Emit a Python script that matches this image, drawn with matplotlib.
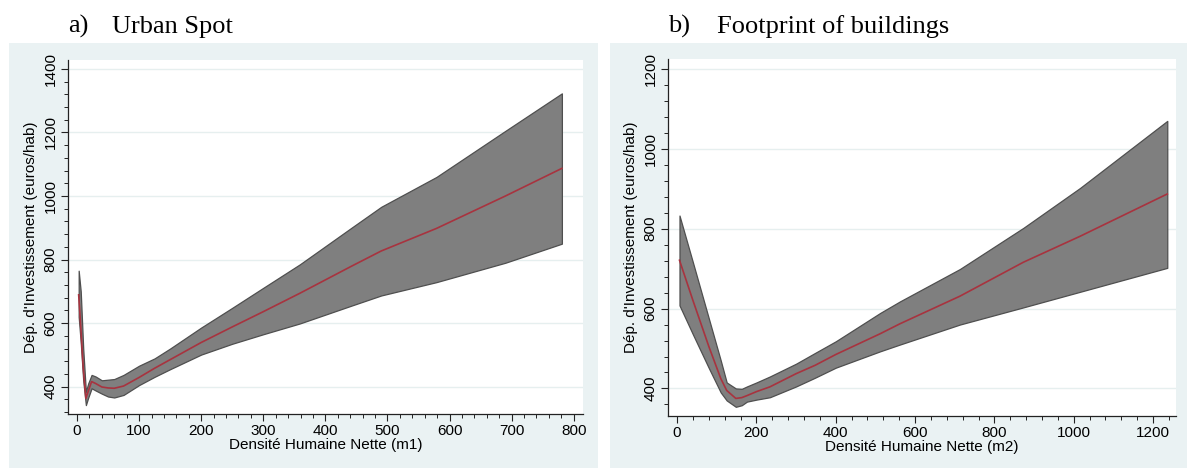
import matplotlib.pyplot as plt
import numpy as np
from matplotlib.patches import Rectangle
from matplotlib.ticker import MultipleLocator

# Panel a) Urban Spot
x_a = [2.7, 6, 10, 14.3, 18, 23.5, 30, 40, 50, 60, 75, 100, 125, 150,
       200, 250, 300, 359, 442, 490, 579, 690, 781]
fit_a = [689, 590, 460, 363, 385, 416, 410, 399, 396, 395, 402, 429, 458, 485,
         539, 588, 636, 694, 779, 827, 898, 1000, 1087]
hi_a = [765, 700, 520, 384, 410, 437, 432, 420, 422, 424, 437, 466, 489, 520,
        586, 648, 711, 785, 900, 966, 1060, 1205, 1323]
lo_a = [620, 540, 420, 342, 365, 395, 388, 378, 369, 366, 374, 405, 431, 455,
        501, 535, 565, 599, 655, 687, 729, 790, 850]

# Panel b) Footprint of buildings
x_b = [6, 40, 80, 110, 125, 148, 163, 176, 200, 234, 300, 348, 400, 512,
       562, 713, 873, 1016, 1236]
fit_b = [721, 620, 505, 425, 395, 375, 377, 382, 392, 404, 437, 458, 485, 537,
         562, 631, 716, 781, 887]
hi_b = [833, 715, 575, 470, 415, 400, 399, 405, 415, 430, 462, 489, 518, 589,
        618, 699, 802, 902, 1070]
lo_b = [608, 535, 451, 390, 370, 354, 358, 367, 372, 378, 405, 427, 452, 493,
        510, 560, 603, 642, 702]

BG = "#EAF2F3"
GRID = "#E6EFEF"
BAND = "#7F7F7F"
BAND_EDGE = "#4F4F4F"
LINE = "#A8333F"

plt.rcParams["font.family"] = ["Liberation Sans", "DejaVu Sans"]

fig = plt.figure(figsize=(11.89, 4.68), dpi=100)
W, H = 1189, 468

# light panel backgrounds, kept behind the axes
fig.patches.append(Rectangle((9 / W, 0), 589 / W, 425 / H, transform=fig.transFigure,
                             facecolor=BG, edgecolor="none", zorder=-5))
fig.patches.append(Rectangle((610 / W, 0), 577 / W, 425 / H, transform=fig.transFigure,
                             facecolor=BG, edgecolor="none", zorder=-5))


def draw_panel(rect, x, fit, lo, hi, xlim, ylim, xmaj, xmin, ymaj, ymin, xlabel):
    ax = fig.add_axes(rect)
    ax.set_zorder(1)
    ax.set_facecolor("white")
    ax.fill_between(x, lo, hi, facecolor=BAND, edgecolor=BAND_EDGE, linewidth=0.9, zorder=2)
    ax.plot(x, fit, color=LINE, linewidth=1.2, zorder=3)
    ax.set_xlim(*xlim)
    ax.set_ylim(*ylim)
    ax.xaxis.set_major_locator(MultipleLocator(xmaj))
    ax.xaxis.set_minor_locator(MultipleLocator(xmin))
    ax.yaxis.set_major_locator(MultipleLocator(ymaj))
    ax.yaxis.set_minor_locator(MultipleLocator(ymin))
    ax.grid(axis="y", which="major", color=GRID, linewidth=1.0, zorder=1)
    ax.set_axisbelow(True)
    for s in ["top", "right"]:
        ax.spines[s].set_visible(False)
    for s in ["left", "bottom"]:
        ax.spines[s].set_color("#222222")
        ax.spines[s].set_linewidth(0.9)
    ax.tick_params(which="major", length=5, width=0.8, color="#222222",
                   labelsize=11, pad=2.5)
    ax.tick_params(which="minor", length=2.8, width=0.7, color="#222222")
    for lab in ax.get_yticklabels():
        lab.set_rotation(90)
        lab.set_va("center")
    ax.set_xlabel(xlabel, fontsize=11, labelpad=0)
    ax.set_ylabel("Dép. d'Investissement (euros/hab)", fontsize=11, labelpad=4)
    return ax


ax1 = draw_panel([68 / W, 54 / H, 515 / W, 354 / H], x_a, fit_a, lo_a, hi_a,
                 (-14.5, 815), (314, 1428), 100, 20, 200, 40,
                 "Densité Humaine Nette (m1)")
ax2 = draw_panel([668 / W, 52 / H, 508 / W, 357 / H], x_b, fit_b, lo_b, hi_b,
                 (-23, 1258), (331, 1225), 200, 40, 200, 40,
                 "Densité Humaine Nette (m2)")

title_font = dict(family=["Liberation Serif", "DejaVu Serif"], fontsize=19, va="baseline")
fig.text(68 / W, 1 - 33 / H, "a)", **title_font)
fig.text(112 / W, 1 - 33 / H, "Urban Spot", **title_font)
fig.text(668 / W, 1 - 33 / H, "b)", **title_font)
fig.text(717 / W, 1 - 33 / H, "Footprint of buildings", **title_font)

fig.savefig("out.png", dpi=100)
